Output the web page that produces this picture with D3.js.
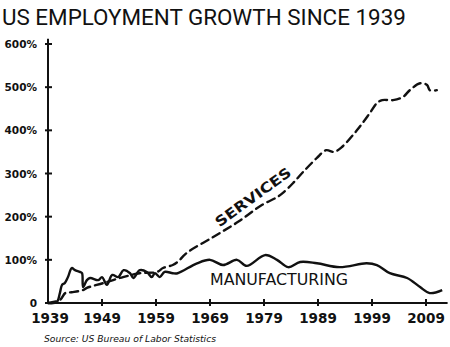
<!DOCTYPE html>
<html><head><meta charset="utf-8">
<script src="https://cdn.jsdelivr.net/npm/d3@7/dist/d3.min.js"></script>
<style>body{margin:0;background:#fff}svg{display:block}</style>
</head><body>
<script>
const mfgYears = [1939,1940.6,1941.2,1941.6,1942.1,1942.7,1943.4,1944,1944.9,1945.3,1945.5,1946.2,1946.8,1948.3,1949,1949.9,1950.9,1952,1953,1954.2,1954.8,1956,1957.3,1958.2,1958.8,1959.7,1960.6,1962.1,1963,1966.6,1969,1971.4,1974,1975.8,1979.2,1981.4,1983.5,1985.7,1988.8,1993,1998,1999.9,2002.3,2005.5,2007.9,2009.7,2012];
const mfgValues = [0,2,23,42,46,60,81,76,72,69,37,53,58,53,60,42,65,60,76,69,58,76,72,60,69,60,72,69,69,92,100,88,100,86,111,100,83,95,92,83,92,88,69,58,37,23,30];
const svcYears = [1939,1941.2,1942.2,1943.4,1945.5,1946.2,1949.2,1952.9,1956,1959.2,1960.3,1962.1,1963,1964.7,1969.6,1974.2,1978.6,1981.4,1982.5,1984.4,1986.2,1988.8,1990.5,1992,1993.3,1996.2,1998.6,1999.9,2000.9,2002.9,2004.7,2006,2007.9,2009.2,2009.7,2011];
const svcValues = [0,7,23,25,30,35,46,60,69,72,81,88,95,116,153,188,227,245,255,278,303,336,354,350,360,400,440,463,470,470,477,493,509,505,493,493];
const xTicks = [1939,1949,1959,1969,1979,1989,1999,2009];
const yTicks = [0,100,200,300,400,500,600];
const yTickLabels = ["0","100%","200%","300%","400%","500%","600%"];
const title = "US EMPLOYMENT GROWTH SINCE 1939";
const source = "Source: US Bureau of Labor Statistics";

const W=450,H=347;
const svg=d3.select("body").append("svg").attr("width",W).attr("height",H);
const x=d3.scaleLinear().domain([1939,2013]).range([48,447.6]);
const y=d3.scaleLinear().domain([0,600]).range([303,44]);
const ink="#111";
const font="'DejaVu Sans', sans-serif";

const t=svg.append("text").attr("x",2).attr("y",25).attr("font-family","Roboto, 'Liberation Sans', sans-serif").attr("font-size",25)
  .attr("fill",ink).text(title);
let tw=t.node().getComputedTextLength();
if(tw>404){t.attr("font-size",25*404/tw);}
else{t.attr("letter-spacing",((404-tw)/(title.length-1)).toFixed(2));}

// axes
svg.append("line").attr("x1",x(1939)).attr("x2",x(1939)).attr("y1",y(0)).attr("y2",y(612)).attr("stroke",ink).attr("stroke-width",2);
svg.append("line").attr("x1",x(1939)).attr("x2",x(2013)).attr("y1",y(0)).attr("y2",y(0)).attr("stroke",ink).attr("stroke-width",2);
svg.selectAll(".yt").data(yTicks).enter().append("line")
  .attr("x1",x(1939)-3).attr("x2",x(1939)+4).attr("y1",d=>y(d)).attr("y2",d=>y(d)).attr("stroke",ink).attr("stroke-width",2);
svg.selectAll(".ytl").data(yTicks).enter().append("text")
  .attr("x",37).attr("y",d=>y(d)+4).attr("text-anchor","end").attr("font-family",font).attr("font-weight","bold")
  .attr("font-size",10.5).attr("fill",ink).text((d,i)=>yTickLabels[i]);
svg.selectAll(".xt").data(xTicks.slice(1)).enter().append("line")
  .attr("x1",d=>x(d)).attr("x2",d=>x(d)).attr("y1",y(0)-4).attr("y2",y(0)+3).attr("stroke",ink).attr("stroke-width",2);
svg.selectAll(".xtl").data(xTicks).enter().append("text")
  .attr("x",d=>x(d)+(d===1939?2:0)).attr("y",y(0)+20).attr("text-anchor","middle").attr("font-family",font).attr("font-weight","bold")
  .attr("font-size",13.5).attr("fill",ink).text(d=>d);

const line=d3.line().x(d=>x(d[0])).y(d=>y(d[1])).curve(d3.curveCatmullRom.alpha(0.5));
svg.append("path").datum(svcYears.map((v,i)=>[v,svcValues[i]])).attr("d",line)
  .attr("fill","none").attr("stroke",ink).attr("stroke-width",2.4).attr("stroke-dasharray","8,5").attr("stroke-linecap","round");
svg.append("path").datum(mfgYears.map((v,i)=>[v,mfgValues[i]])).attr("d",line)
  .attr("fill","none").attr("stroke",ink).attr("stroke-width",2.4).attr("stroke-linejoin","round");

svg.append("text").attr("x",210).attr("y",285).attr("font-family",font).attr("font-size",16)
  .attr("textLength",138).attr("lengthAdjust","spacingAndGlyphs").attr("fill",ink).text("MANUFACTURING");
svg.append("text").attr("transform","translate(256,201) rotate(-36)").attr("text-anchor","middle")
  .attr("font-family",font).attr("font-size",14).attr("font-weight","bold")
  .attr("textLength",90).attr("lengthAdjust","spacingAndGlyphs").attr("fill",ink).text("SERVICES");

svg.append("text").attr("x",44).attr("y",342).attr("font-family",font).attr("font-size",8.5).attr("font-style","italic")
  .attr("textLength",172).attr("lengthAdjust","spacingAndGlyphs").attr("fill",ink).text(source);
</script>
</body></html>
